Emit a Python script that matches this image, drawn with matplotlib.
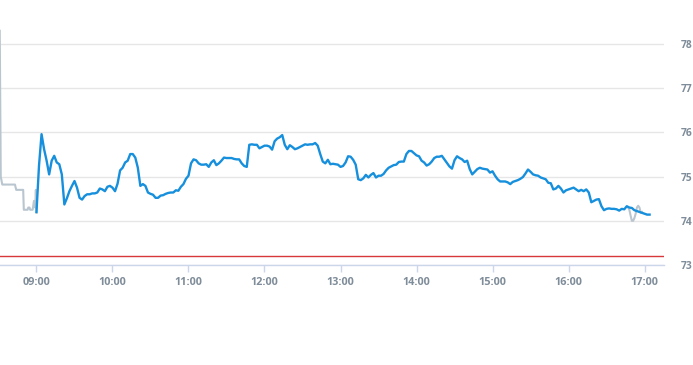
import matplotlib
matplotlib.use("Agg")
import matplotlib.pyplot as plt
import numpy as np

# minutes relative to 09:00
tick_minutes = [0, 60, 120, 180, 240, 300, 360, 420, 480]
tick_labels = ["09:00", "10:00", "11:00", "12:00", "13:00", "14:00", "15:00", "16:00", "17:00"]
y_ticks = [73, 74, 75, 76, 77, 78]
prev_close = 73.21

# pre-market (gray)
pre_t = [-29, -28.2, -27, -17, -16, -10.5, -10, -7, -6.5, -5.5, -5, -3, -2, -1, -0.5, 0]
pre_v = [78.3, 75.0, 74.82, 74.82, 74.7, 74.7, 74.25, 74.25, 74.3, 74.3, 74.25, 74.25, 74.45, 74.3, 74.7, 74.18]

# main session, one value every 2 minutes from 09:00
session_v = [
    74.2, 75.25, 75.96, 75.62, 75.36, 75.05, 75.36, 75.47, 75.32, 75.28,
    75.05, 74.37, 74.51, 74.67, 74.79, 74.9, 74.75, 74.52, 74.48, 74.56,
    74.6, 74.6, 74.62, 74.62, 74.64, 74.73, 74.71, 74.67, 74.77, 74.79,
    74.75, 74.67, 74.84, 75.14, 75.2, 75.32, 75.36, 75.51, 75.51, 75.43,
    75.2, 74.79, 74.83, 74.79, 74.64, 74.61, 74.59, 74.52, 74.52, 74.57,
    74.58, 74.61, 74.63, 74.64, 74.64, 74.69, 74.68, 74.77, 74.83, 74.95,
    75.02, 75.3, 75.39, 75.37, 75.3, 75.27, 75.27, 75.28, 75.22, 75.32,
    75.37, 75.26, 75.3, 75.36, 75.43, 75.42, 75.42, 75.42, 75.4, 75.39,
    75.39, 75.3, 75.24, 75.22, 75.72, 75.73, 75.72, 75.72, 75.64, 75.67,
    75.7, 75.7, 75.68, 75.61, 75.8, 75.86, 75.89, 75.94, 75.72, 75.62,
    75.71, 75.67, 75.62, 75.64, 75.67, 75.7, 75.73, 75.72, 75.73, 75.73,
    75.76, 75.7, 75.51, 75.34, 75.3, 75.38, 75.28, 75.29, 75.28, 75.27,
    75.22, 75.24, 75.32, 75.46, 75.45, 75.38, 75.27, 74.94, 74.92, 74.96,
    75.04, 74.98, 75.04, 75.08, 74.98, 75.02, 75.02, 75.06, 75.14, 75.2,
    75.23, 75.26, 75.27, 75.33, 75.34, 75.34, 75.51, 75.58, 75.58, 75.53,
    75.48, 75.46, 75.36, 75.32, 75.25, 75.28, 75.34, 75.42, 75.45, 75.45,
    75.47, 75.39, 75.31, 75.23, 75.18, 75.37, 75.46, 75.42, 75.39, 75.33,
    75.36, 75.17, 75.05, 75.11, 75.17, 75.2, 75.18, 75.17, 75.16, 75.09,
    75.12, 75.02, 74.94, 74.89, 74.89, 74.89, 74.87, 74.83, 74.88, 74.9,
    74.92, 74.95, 74.99, 75.07, 75.16, 75.11, 75.05, 75.03, 75.02, 74.98,
    74.96, 74.94, 74.86, 74.85, 74.71, 74.73, 74.79, 74.73, 74.64, 74.69,
    74.71, 74.73, 74.75, 74.71, 74.67, 74.7, 74.67, 74.71, 74.64, 74.42,
    74.45, 74.48, 74.49, 74.33, 74.24, 74.27, 74.28, 74.27, 74.27, 74.26,
    74.23, 74.27, 74.26, 74.33, 74.3, 74.29, 74.24, 74.22, 74.2, 74.18,
    74.16, 74.14, 74.14,
]
session_t = np.arange(len(session_v)) * 2

# closing auction / after hours (gray)
post_t = [467, 468, 469, 470, 471, 472, 473, 474, 475, 476, 477, 478]
post_v = [74.3, 74.25, 74.12, 74.0, 74.0, 74.06, 74.16, 74.3, 74.34, 74.3, 74.18, 74.2]

fig = plt.figure(figsize=(6.93, 3.65), dpi=100)
ax = fig.add_axes([0, 0.274, 0.9582, 0.672])

tick_color = "#7f8c99"
ax.axhline(prev_close, color="#d9383a", lw=1.0, zorder=2)
ax.plot(pre_t, pre_v, color="#b9c6cf", lw=1.5, zorder=3)
ax.plot(post_t, post_v, color="#b9c6cf", lw=1.5, zorder=3)
ax.plot(session_t, session_v, color="#168fdc", lw=1.7, zorder=4)

ax.set_xlim(-28.8, 495.4)
ax.set_ylim(73, 78.55)
ax.set_xticks(tick_minutes)
ax.set_xticklabels(tick_labels)
ax.set_yticks(y_ticks)
ax.set_yticklabels([str(v) for v in y_ticks])
ax.yaxis.tick_right()
ax.grid(axis="y", color="#e6e6e6", lw=1.0, zorder=1)

for side in ["top", "left", "right"]:
    ax.spines[side].set_visible(False)
ax.spines["bottom"].set_color("#ccd6eb")
ax.spines["bottom"].set_linewidth(1.0)

ax.tick_params(axis="x", length=5, width=1, color="#ccd6eb", labelcolor=tick_color,
               labelsize=7.8, pad=4)
ax.tick_params(axis="y", length=0, labelcolor=tick_color, labelsize=7.4, pad=12)
for lab in ax.get_xticklabels() + ax.get_yticklabels():
    lab.set_fontfamily("Open Sans")
    lab.set_fontweight("bold")
for lab in ax.get_yticklabels():
    lab.set_horizontalalignment("left")

fig.savefig("out.png", dpi=100)
